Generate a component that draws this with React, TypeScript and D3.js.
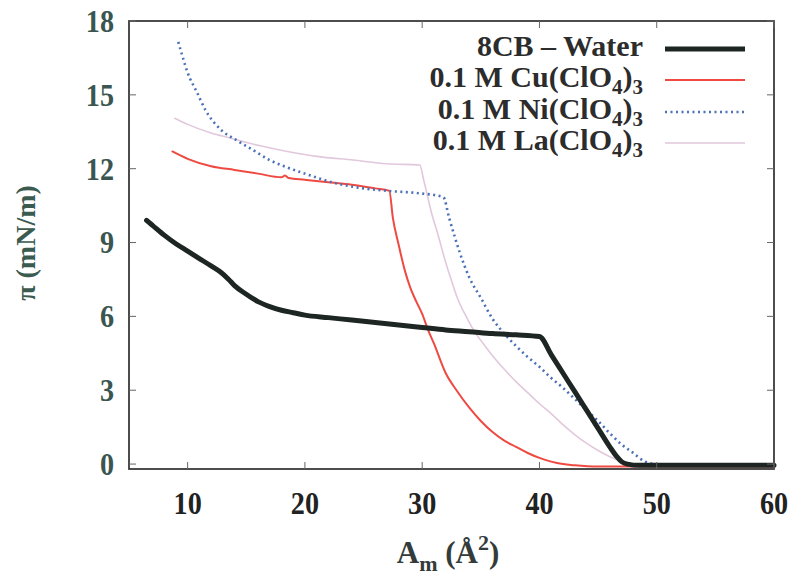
import React from "react";
import * as d3 from "d3";

const xTicks = [10, 20, 30, 40, 50, 60];
const yTicks = [0, 3, 6, 9, 12, 15, 18];

const water: [number, number][] = [
  [6.5, 9.9], [7, 9.7], [8, 9.3], [9, 8.95], [10, 8.65], [11, 8.35], [12, 8.05], [12.8, 7.8],
  [13.5, 7.5], [14, 7.25], [15, 6.9], [16, 6.6], [17, 6.4], [18, 6.25], [19, 6.15], [20, 6.05],
  [22, 5.95], [24, 5.85], [26, 5.75], [28, 5.65], [30, 5.55], [32, 5.45], [34, 5.38], [36, 5.3],
  [38, 5.25], [40, 5.18], [41, 4.45], [42, 3.7], [43, 2.95], [44, 2.2], [45, 1.45], [46, 0.7],
  [46.6, 0.3], [47, 0.1], [47.5, 0.0], [48.5, -0.05], [60, -0.05],
];

const cu: [number, number][] = [
  [8.7, 12.7], [10, 12.4], [12, 12.1], [14, 11.95], [16, 11.8], [18, 11.65], [18.3, 11.72],
  [18.6, 11.62], [20, 11.55], [22, 11.45], [24, 11.35], [26, 11.2], [27.2, 11.1], [27.5, 10.0],
  [28, 8.9], [28.5, 7.9], [29, 7.15], [29.5, 6.6], [30, 6.1], [30.5, 5.45], [31, 4.9], [32, 3.7],
  [33, 2.95], [34, 2.3], [35, 1.75], [36, 1.3], [37, 0.95], [38, 0.7], [39, 0.45], [40, 0.25],
  [41, 0.1], [42, 0.0], [43, -0.05], [45, -0.1], [60, -0.1],
];

const ni: [number, number][] = [
  [9.2, 17.15], [9.6, 16.5], [10, 15.9], [10.8, 15.1], [11.5, 14.4], [12.8, 13.6], [14.2, 13.15],
  [15.6, 12.75], [17, 12.35], [18.5, 12.05], [20, 11.8], [22.7, 11.4], [25, 11.2], [27, 11.1],
  [29.8, 11.0], [31.8, 10.85], [32.3, 10.0], [32.8, 9.2], [33.2, 8.6], [34, 7.6], [35, 6.75],
  [36, 5.9], [37, 5.3], [38, 4.8], [39, 4.35], [40, 3.95], [41, 3.5], [42, 3.1], [43, 2.65],
  [44, 2.2], [45, 1.75], [46, 1.25], [47, 0.8], [48, 0.45], [49, 0.1], [50, 0.0],
];

const la: [number, number][] = [
  [8.9, 14.05], [10, 13.8], [12, 13.45], [13.6, 13.25], [16, 12.95], [18.5, 12.7], [21, 12.5],
  [24.1, 12.35], [27, 12.2], [29.8, 12.15], [30.1, 11.6], [30.4, 11.0], [30.8, 10.2], [31.3, 9.4],
  [32, 8.2], [32.4, 7.6], [33, 6.75], [33.8, 5.95], [34.5, 5.35], [35.2, 4.9], [36, 4.4],
  [37, 3.85], [38, 3.35], [39, 2.9], [40, 2.45], [41, 2.05], [42, 1.6], [43, 1.2], [44, 0.85],
  [45, 0.55], [46, 0.3], [47, 0.1], [48, -0.05], [50, -0.1], [60, -0.1],
];

const seriesNames = ["8CB \u2013 Water", "0.1 M Cu(ClO", "0.1 M Ni(ClO", "0.1 M La(ClO"];

export default function App() {
  const W = 793, H = 576;
  const left = 129, right = 774, top = 21, bottom = 469;
  const x = d3.scaleLinear().domain([5, 60]).range([left, right]);
  const y = d3.scaleLinear().domain([-0.2, 18]).range([bottom, top]);
  const line = d3.line<[number, number]>().x(d => x(d[0])).y(d => y(d[1])).curve(d3.curveMonotoneX);

  const series = [
    { data: la, color: "#e2c8dc", width: 1.6, dash: undefined as string | undefined },
    { data: cu, color: "#ee4a42", width: 2, dash: undefined },
    { data: ni, color: "#4a70b8", width: 2.6, dash: "2,3.5" },
    { data: water, color: "#1e2624", width: 5, dash: undefined },
  ];
  const legendStyles = [
    { color: "#1e2624", width: 5, dash: undefined as string | undefined },
    { color: "#ee4a42", width: 2, dash: undefined },
    { color: "#4a70b8", width: 2.6, dash: "2,3.5" },
    { color: "#e2c8dc", width: 1.6, dash: undefined },
  ];
  const legendY = [49, 80, 112, 143];
  const font = "Liberation Serif, Times New Roman, serif";

  return (
    <svg width={W} height={H} style={{ position: "absolute", left: 0, top: 0, background: "#fff" }}>
      <g>
        {series.map((s, i) => (
          <path key={i} d={line(s.data) || ""} fill="none" stroke={s.color} strokeWidth={s.width}
            strokeDasharray={s.dash} strokeLinejoin="round" strokeLinecap={s.dash ? "butt" : "round"} />
        ))}
      </g>
      <rect x={left} y={top} width={right - left} height={bottom - top} fill="none" stroke="#3a3a3a" strokeWidth={1.8} />
      {yTicks.map(t => (
        <g key={"y" + t}>
          <line x1={left} x2={left + 7} y1={y(t)} y2={y(t)} stroke="#666" strokeWidth={1} />
          <line x1={right} x2={right - 7} y1={y(t)} y2={y(t)} stroke="#666" strokeWidth={1} />
          <text transform={`translate(${left - 15},${y(t)}) scale(0.88,1)`} dy="0.34em" textAnchor="end"
            fontFamily={font} fontWeight="bold" fontSize={32} fill="#3b5650">{t}</text>
        </g>
      ))}
      {xTicks.map(t => (
        <g key={"x" + t}>
          <line x1={x(t)} x2={x(t)} y1={bottom} y2={bottom - 7} stroke="#666" strokeWidth={1} />
          <line x1={x(t)} x2={x(t)} y1={top} y2={top + 7} stroke="#666" strokeWidth={1} />
          <text transform={`translate(${x(t)},${bottom + 45}) scale(0.88,1)`} textAnchor="middle"
            fontFamily={font} fontWeight="bold" fontSize={32} fill="#222">{t}</text>
        </g>
      ))}
      <text x={448} y={563} textAnchor="middle" fontFamily={font} fontWeight="bold" fontSize={31} fill="#333c3a">
        A<tspan fontSize={22} dy={8}>m</tspan><tspan dy={-8}> (Å</tspan><tspan fontSize={22} dy={-13}>2</tspan><tspan dy={13}>)</tspan>
      </text>
      <text transform="translate(35,243) rotate(-90)" textAnchor="middle" fontFamily={font} fontWeight="bold"
        fontSize={28} fill="#3b5a50">π (mN/m)</text>
      {seriesNames.map((n, i) => (
        <g key={"l" + i}>
          <text x={643} y={legendY[i]} dy="0.22em" textAnchor="end" fontFamily={font} fontWeight="bold"
            fontSize={30} fill="#2c2c2c">
            {i === 0 ? n : (<>{n}<tspan fontSize={21} dy={7}>4</tspan><tspan dy={-7}>)</tspan><tspan fontSize={21} dy={7}>3</tspan></>)}
          </text>
          <line x1={665} x2={745} y1={legendY[i]} y2={legendY[i]} stroke={legendStyles[i].color}
            strokeWidth={legendStyles[i].width} strokeDasharray={legendStyles[i].dash} />
        </g>
      ))}
    </svg>
  );
}
